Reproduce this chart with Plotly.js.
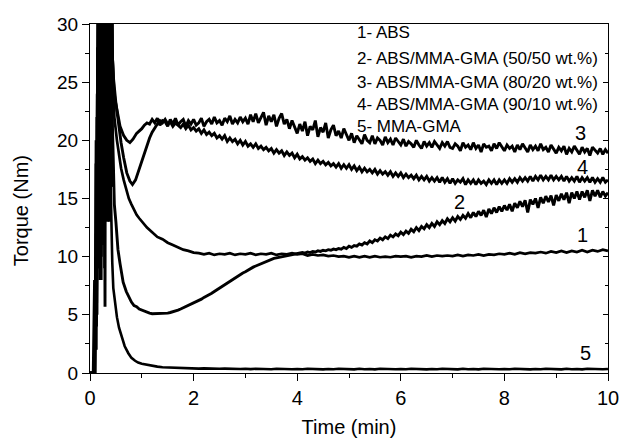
<!DOCTYPE html>
<html>
<head>
<meta charset="utf-8">
<script src="https://cdn.plot.ly/plotly-3.0.1.min.js"></script>
<style>html,body{margin:0;padding:0;background:#fff;}#chart{width:622px;height:441px;}</style>
</head>
<body>
<div id="chart"></div>
<script>
// Time grid (step 0.1 min) for the smooth curves 1 and 5
var tLate = [1.0,1.1,1.2,1.3,1.4,1.5,1.6,1.7,1.8,1.9,
  2.0,2.1,2.2,2.3,2.4,2.5,2.6,2.7,2.8,2.9,
  3.0,3.1,3.2,3.3,3.4,3.5,3.6,3.7,3.8,3.9,
  4.0,4.1,4.2,4.3,4.4,4.5,4.6,4.7,4.8,4.9,
  5.0,5.1,5.2,5.3,5.4,5.5,5.6,5.7,5.8,5.9,
  6.0,6.1,6.2,6.3,6.4,6.5,6.6,6.7,6.8,6.9,
  7.0,7.1,7.2,7.3,7.4,7.5,7.6,7.7,7.8,7.9,
  8.0,8.1,8.2,8.3,8.4,8.5,8.6,8.7,8.8,8.9,
  9.0,9.1,9.2,9.3,9.4,9.5,9.6,9.7,9.8,9.9,10.0];

// Time grid (step 0.05 min) for the noisy curves 2, 3, 4
var tFine = [1.00,1.05,1.10,1.15,1.20,1.25,1.30,1.35,1.40,1.45,1.50,1.55,1.60,1.65,1.70,1.75,1.80,1.85,1.90,1.95,
  2.00,2.05,2.10,2.15,2.20,2.25,2.30,2.35,2.40,2.45,2.50,2.55,2.60,2.65,2.70,2.75,2.80,2.85,2.90,2.95,
  3.00,3.05,3.10,3.15,3.20,3.25,3.30,3.35,3.40,3.45,3.50,3.55,3.60,3.65,3.70,3.75,3.80,3.85,3.90,3.95,
  4.00,4.05,4.10,4.15,4.20,4.25,4.30,4.35,4.40,4.45,4.50,4.55,4.60,4.65,4.70,4.75,4.80,4.85,4.90,4.95,
  5.00,5.05,5.10,5.15,5.20,5.25,5.30,5.35,5.40,5.45,5.50,5.55,5.60,5.65,5.70,5.75,5.80,5.85,5.90,5.95,
  6.00,6.05,6.10,6.15,6.20,6.25,6.30,6.35,6.40,6.45,6.50,6.55,6.60,6.65,6.70,6.75,6.80,6.85,6.90,6.95,
  7.00,7.05,7.10,7.15,7.20,7.25,7.30,7.35,7.40,7.45,7.50,7.55,7.60,7.65,7.70,7.75,7.80,7.85,7.90,7.95,
  8.00,8.05,8.10,8.15,8.20,8.25,8.30,8.35,8.40,8.45,8.50,8.55,8.60,8.65,8.70,8.75,8.80,8.85,8.90,8.95,
  9.00,9.05,9.10,9.15,9.20,9.25,9.30,9.35,9.40,9.45,9.50,9.55,9.60,9.65,9.70,9.75,9.80,9.85,9.90,9.95,
  10.00];

// Curve 1 - ABS
var t1Early = [0,0.07,0.1,0.115,0.13,0.145,0.16,0.175,0.19,0.205,0.22,0.235,0.25,0.265,0.28,0.295,0.31,0.325,0.34,0.355,0.37,0.385,0.4,0.415,0.43,0.445,0.47,0.52,0.56,0.6,0.65,0.7,0.75,0.8,0.85,0.9,0.95];
var y1Early = [0,0,3,18,6,28,12,34,15,35,10,36,18,34,12,35,20,36,16,34,22,35,24,33,28,26,22,20,18.8,17.6,16.6,15.7,15.0,14.5,14.0,13.6,13.3];
var y1Late = [13.0,12.5,12.1,11.7,11.5,11.2,11.0,10.8,10.6,10.5,
  10.35,10.3,10.2,10.3,10.15,10.25,10.2,10.3,10.15,10.25,
  10.2,10.3,10.15,10.25,10.2,10.3,10.15,10.25,10.2,10.3,
  10.2,10.25,10.1,10.2,10.1,10.15,10.05,10.1,10.0,10.05,
  9.95,10.05,9.95,10.05,9.95,10.05,9.95,10.0,9.95,10.05,
  10.0,10.05,9.95,10.05,10.0,10.1,10.0,10.1,10.05,10.1,
  10.05,10.15,10.05,10.15,10.1,10.2,10.1,10.2,10.15,10.25,
  10.2,10.3,10.2,10.35,10.25,10.35,10.3,10.4,10.3,10.45,
  10.35,10.5,10.35,10.5,10.4,10.55,10.4,10.55,10.45,10.6,10.5];

// Curve 2 - ABS/MMA-GMA (50/50)
var t2Early = [0,0.08,0.105,0.12,0.135,0.15,0.165,0.18,0.19,0.2,0.215,0.23,0.245,0.26,0.275,0.29,0.3,0.315,0.33,0.345,0.36,0.375,0.39,0.405,0.42,0.435,0.45,0.47,0.5,0.54,0.58,0.64,0.7,0.75,0.8,0.85,0.9,0.95];
var y2Early = [0,0,8,2,22,9,33,30,8,31,14,35,20,36,25,5.7,31,18,36,14,35,22,34,16,33,21,17,14.5,13,10.6,9.4,7.8,7.0,6.5,6.1,5.8,5.7,5.5];
var y2Late = [5.4,5.3,5.2,5.15,5.1,5.1,5.1,5.1,5.1,5.1,5.15,5.2,5.25,5.3,5.4,5.5,5.6,5.7,5.8,5.9,
  6.0,6.1,6.2,6.35,6.5,6.6,6.7,6.85,7.0,7.15,7.3,7.45,7.6,7.75,7.9,8.05,8.2,8.35,8.5,8.6,
  8.7,8.85,9.0,9.1,9.2,9.3,9.4,9.5,9.6,9.7,9.8,9.85,9.9,9.95,10.0,10.05,10.1,10.15,10.2,10.25,
  10.3,10.3,10.35,10.3,10.4,10.35,10.45,10.4,10.5,10.45,10.55,10.5,10.6,10.55,10.65,10.6,10.7,10.65,10.8,10.7,
  10.9,10.8,10.95,10.9,11.1,11.0,11.2,11.1,11.35,11.2,11.45,11.35,11.6,11.45,11.7,11.55,11.85,11.7,11.95,11.8,
  12.1,11.9,12.2,12.0,12.35,12.15,12.5,12.25,12.6,12.4,12.75,12.5,12.85,12.6,13.0,12.75,13.1,12.85,13.25,13.0,
  13.35,13.05,13.45,13.2,13.55,13.3,13.7,13.35,13.8,13.45,13.9,13.55,14.0,13.4,14.1,13.7,14.2,13.8,14.3,13.9,
  14.4,14.0,14.5,13.9,14.6,14.2,14.75,14.3,14.85,13.8,14.9,14.5,15.0,14.2,15.1,14.6,15.2,14.7,15.25,14.4,
  15.3,14.8,15.4,14.9,15.5,14.6,15.5,15.0,15.6,14.9,15.6,15.1,15.7,14.8,15.7,15.2,15.7,15.1,15.6,15.2,
  15.5];

// Curve 3 - ABS/MMA-GMA (80/20)
var t3Early = [0,0.09,0.11,0.125,0.14,0.155,0.17,0.185,0.2,0.215,0.23,0.245,0.26,0.275,0.29,0.305,0.32,0.335,0.35,0.365,0.38,0.395,0.41,0.425,0.44,0.46,0.48,0.53,0.58,0.65,0.71,0.77,0.83,0.9,0.95];
var y3Early = [0,0,10,4,24,10,33,14,35,8,34,16,36,11,35,19,33,13,36,21,34,17,35,28,26,24.5,23.6,22.2,21.2,20.4,20.0,19.8,20.1,20.6,20.8];
var y3Late = [21.0,21.3,21.5,21.4,21.8,21.5,21.9,21.3,21.7,21.6,21.2,21.8,21.4,21.9,21.3,21.6,21.8,21.2,21.7,21.4,
  21.8,21.3,21.5,21.9,21.2,21.6,21.8,21.4,22.0,21.5,21.7,21.3,21.9,21.6,22.1,21.4,21.8,21.5,22.0,21.6,
  21.9,21.4,22.2,21.6,22.3,21.5,21.9,22.4,21.3,22.1,21.6,22.2,21.2,21.9,22.3,21.4,21.8,21.0,21.7,21.2,
  20.6,21.4,20.8,21.6,20.4,21.2,20.9,21.7,20.3,21.1,20.7,21.5,20.2,20.9,21.3,20.4,20.8,20.2,21.0,20.5,
  20.0,20.6,19.8,20.4,20.1,19.7,20.5,20.0,19.8,20.4,19.7,20.2,20.0,19.6,20.3,19.8,20.1,19.6,20.2,19.9,
  19.6,20.1,19.5,19.9,19.7,19.4,20.0,19.6,19.3,19.9,19.5,19.8,19.4,19.9,19.6,19.3,19.8,19.5,19.9,19.4,
  19.3,19.7,19.5,19.1,19.8,19.4,19.6,19.2,19.8,19.3,19.6,19.0,19.7,19.4,19.5,19.1,19.7,19.3,19.8,19.4,
  19.1,19.6,19.3,19.5,19.0,19.6,19.2,19.7,19.3,19.0,19.6,19.2,19.5,19.1,19.7,19.2,19.4,19.0,19.6,19.3,
  18.9,19.4,19.1,19.5,18.8,19.3,19.0,19.5,19.1,18.8,19.4,19.0,19.3,18.7,19.4,19.1,18.9,19.3,18.8,19.2,
  18.9];

// Curve 4 - ABS/MMA-GMA (90/10)
var t4Early = [0,0.1,0.12,0.135,0.15,0.165,0.18,0.195,0.21,0.225,0.24,0.255,0.27,0.285,0.3,0.315,0.33,0.345,0.36,0.375,0.39,0.405,0.42,0.435,0.45,0.5,0.55,0.6,0.65,0.71,0.77,0.82,0.88,0.94];
var y4Early = [0,0,12,5,26,13,34,9,33,17,35,12,32,20,36,15,34,19,35,24,33,20,34,27,25.5,23.2,21.3,19.8,18.5,17.2,16.5,16.2,16.6,17.4];
var y4Late = [18.2,18.9,19.6,20.2,20.7,21.1,21.4,21.7,21.5,21.8,21.4,21.6,21.2,21.5,21.3,21.1,21.4,21.0,21.3,20.9,
  21.1,20.8,21.0,20.6,20.9,20.5,20.7,20.4,20.6,20.2,20.4,20.1,20.4,19.9,20.2,19.9,20.1,19.7,20.0,19.6,
  19.9,19.5,19.7,19.4,19.7,19.3,19.5,19.2,19.4,19.1,19.3,18.9,19.2,18.9,19.1,18.7,19.0,18.7,18.9,18.5,
  18.8,18.4,18.6,18.3,18.5,18.2,18.4,18.0,18.3,18.0,18.2,17.9,18.1,17.8,18.0,17.7,18.0,17.6,17.9,17.6,
  17.9,17.5,17.8,17.4,17.7,17.3,17.6,17.3,17.5,17.2,17.5,17.1,17.4,17.1,17.3,17.0,17.3,16.9,17.2,16.9,
  17.2,16.8,17.1,16.8,17.0,16.7,17.0,16.6,16.9,16.6,16.9,16.5,16.8,16.5,16.8,16.4,16.8,16.4,16.7,16.3,
  16.7,16.3,16.6,16.4,16.7,16.2,16.6,16.3,16.6,16.2,16.6,16.3,16.5,16.2,16.6,16.3,16.6,16.2,16.6,16.3,
  16.6,16.3,16.7,16.4,16.7,16.4,16.8,16.5,16.8,16.5,16.9,16.5,16.9,16.6,17.0,16.6,16.9,16.6,17.0,16.6,
  16.9,16.6,16.9,16.5,16.9,16.5,16.8,16.5,16.9,16.4,16.8,16.5,16.8,16.4,16.8,16.4,16.7,16.4,16.8,16.4,
  16.6];

// Curve 5 - MMA-GMA
var t5Early = [0,0.06,0.085,0.1,0.115,0.13,0.145,0.16,0.175,0.19,0.205,0.22,0.235,0.25,0.265,0.28,0.295,0.31,0.325,0.34,0.355,0.37,0.385,0.4,0.415,0.43,0.45,0.48,0.52,0.56,0.61,0.67,0.74,0.8,0.87,0.93];
var y5Early = [0,0,8,2,20,7,31,12,34,22,32,11,31,18,30,9,33,16,32,20,27,13,22,16,12,9.5,7.3,6.0,4.8,3.9,3.1,2.3,1.7,1.3,1.05,0.9];
var y5Late = [0.8,0.7,0.62,0.55,0.5,0.48,0.45,0.44,0.43,0.42,
  0.4,0.38,0.4,0.37,0.39,0.36,0.38,0.35,0.37,0.35,
  0.36,0.33,0.37,0.34,0.36,0.32,0.36,0.33,0.35,0.32,
  0.35,0.32,0.36,0.33,0.35,0.31,0.35,0.32,0.36,0.33,
  0.35,0.31,0.36,0.32,0.35,0.31,0.36,0.33,0.35,0.32,
  0.35,0.32,0.36,0.33,0.35,0.31,0.35,0.32,0.36,0.33,
  0.35,0.31,0.36,0.32,0.35,0.31,0.36,0.33,0.35,0.32,
  0.35,0.32,0.36,0.33,0.35,0.31,0.35,0.32,0.36,0.33,
  0.35,0.31,0.36,0.32,0.35,0.31,0.36,0.33,0.35,0.32,0.35];

var legendLines = ["1- ABS","2- ABS/MMA-GMA (50/50 wt.%)","3- ABS/MMA-GMA (80/20 wt.%)","4- ABS/MMA-GMA (90/10 wt.%)","5- MMA-GMA"];
var legendY = [29.3, 27.0, 25.0, 23.1, 21.2];
var curveLabels = ["1","2","3","4","5"];
var labelX = [9.5, 7.14, 9.46, 9.5, 9.56];
var labelY = [11.9, 14.7, 20.6, 17.7, 1.7];

var FONT = "Liberation Sans, Arial, Helvetica, sans-serif";

function mk(tE, yE, tL, yL, w) {
  return {x: tE.concat(tL), y: yE.concat(yL), type: 'scatter', mode: 'lines',
    line: {color: '#000', width: w}, hoverinfo: 'skip', showlegend: false};
}
var data = [
  mk(t1Early, y1Early, tLate, y1Late, 2.7),
  mk(t2Early, y2Early, tFine, y2Late, 2.9),
  mk(t3Early, y3Early, tFine, y3Late, 2.9),
  mk(t4Early, y4Early, tFine, y4Late, 2.9),
  mk(t5Early, y5Early, tLate, y5Late, 2.6),
  {x: [], y: [], yaxis: 'y2', type: 'scatter', mode: 'lines', showlegend: false}
];

var annotations = [];
for (var i = 0; i < legendLines.length; i++) {
  annotations.push({x: 5.12, y: legendY[i], xref: 'x', yref: 'y', text: legendLines[i],
    showarrow: false, xanchor: 'left', yanchor: 'middle', font: {family: FONT, size: 17, color: '#000'}});
}
for (var j = 0; j < curveLabels.length; j++) {
  annotations.push({x: labelX[j], y: labelY[j], xref: 'x', yref: 'y', text: curveLabels[j],
    showarrow: false, xanchor: 'center', yanchor: 'middle', font: {family: FONT, size: 20, color: '#000'}});
}
// y-axis title placed as in the reference
annotations.push({x: -0.133, y: 0.464, xref: 'paper', yref: 'paper', text: 'Torque (Nm)', textangle: -90,
  showarrow: false, xanchor: 'center', yanchor: 'middle', font: {family: FONT, size: 20, color: '#000'}});

var layout = {
  width: 622, height: 441,
  margin: {l: 90, r: 14, t: 24, b: 68, pad: 0},
  paper_bgcolor: '#fff', plot_bgcolor: '#fff',
  font: {family: FONT, color: '#000'},
  showlegend: false,
  xaxis: {
    range: [0, 10], dtick: 2, tick0: 0, ticks: 'outside', ticklen: 7, tickwidth: 1, tickcolor: '#000',
    minor: {dtick: 1, ticks: 'outside', ticklen: 4, tickcolor: '#000'},
    showline: true, linecolor: '#000', linewidth: 1, mirror: true,
    showgrid: false, zeroline: false,
    tickfont: {family: FONT, size: 20, color: '#000'},
    title: {text: 'Time (min)', font: {family: FONT, size: 20, color: '#000'}, standoff: 11}
  },
  yaxis: {
    range: [0, 30], dtick: 5, tick0: 0, ticks: 'outside', ticklen: 7, tickwidth: 1, tickcolor: '#000',
    minor: {dtick: 2.5, ticks: 'outside', ticklen: 4, tickcolor: '#000'},
    showline: true, linecolor: '#000', linewidth: 1, mirror: true,
    showgrid: false, zeroline: false,
    tickfont: {family: FONT, size: 19, color: '#000'}
  },
  yaxis2: {
    overlaying: 'y', side: 'right', range: [0, 30], dtick: 5, tick0: 0,
    ticks: 'inside', ticklen: 5, tickcolor: '#000', showticklabels: false,
    minor: {dtick: 2.5, ticks: 'inside', ticklen: 3, tickcolor: '#000'},
    showline: false, showgrid: false, zeroline: false
  },
  annotations: annotations
};

Plotly.newPlot('chart', data, layout, {staticPlot: true, displayModeBar: false});
</script>
</body>
</html>
